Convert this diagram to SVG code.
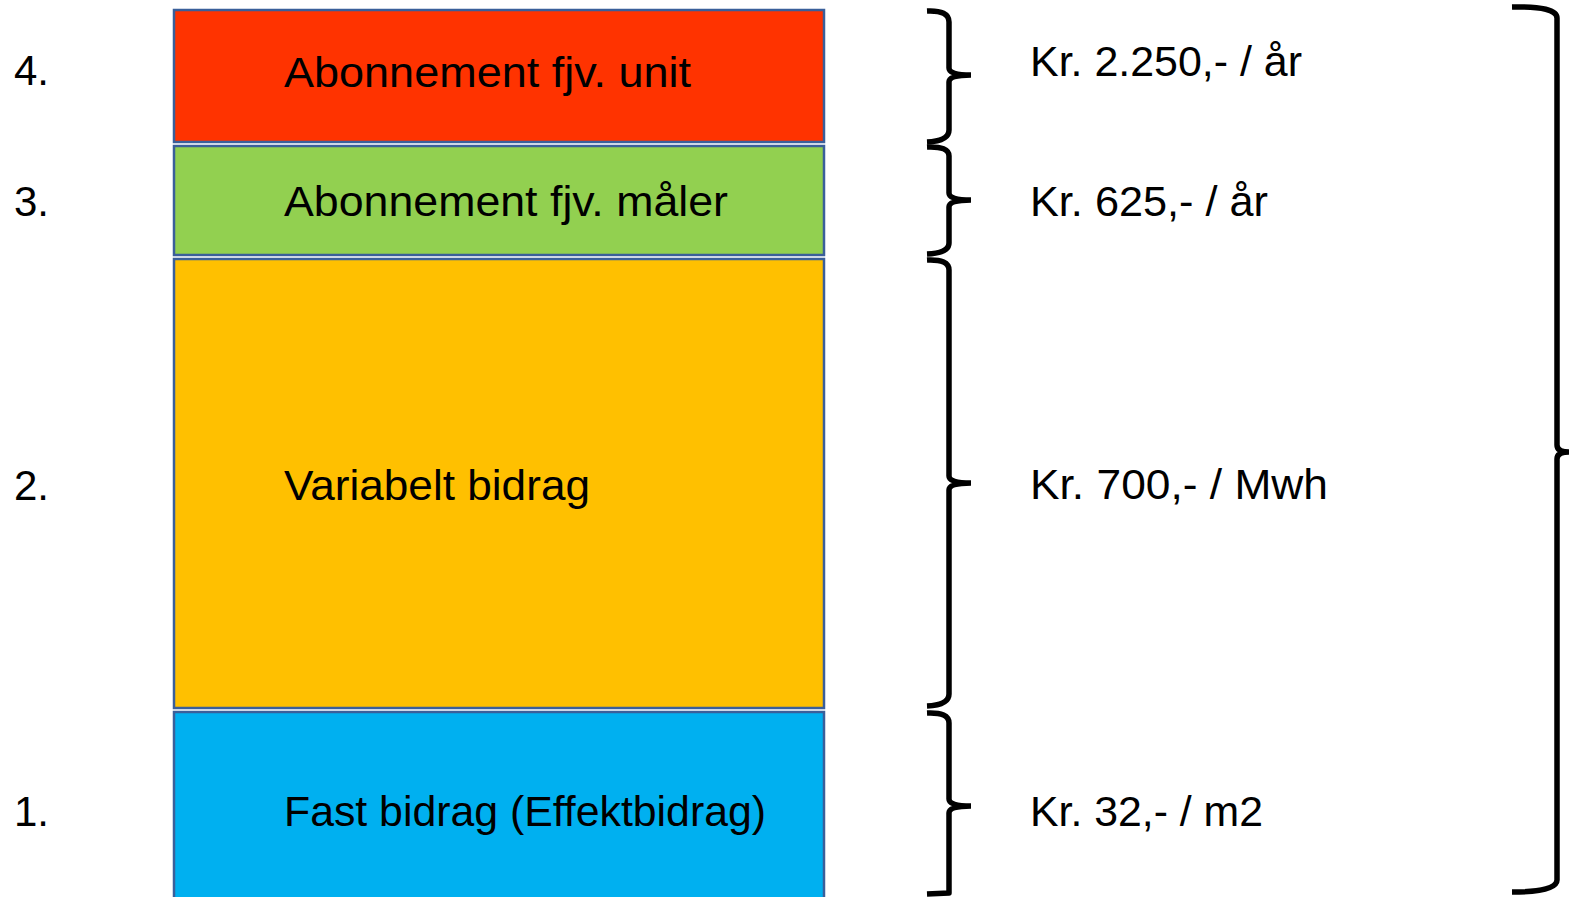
<svg xmlns="http://www.w3.org/2000/svg" width="1570" height="897" viewBox="0 0 1570 897">
<style>
.box{stroke:#3A5F9A;stroke-width:2.5}
.t{font-family:"Liberation Sans",Arial,sans-serif;font-size:42px;fill:#000}
.brace{fill:none;stroke:#000;stroke-width:5.5;stroke-linecap:butt;stroke-linejoin:round}
</style>
<rect width="1570" height="897" fill="#fff"/>
<g id="node4">
<rect class="box" x="174" y="10" width="650" height="132" fill="#FF3300"/>
<text class="t" x="284" y="87" textLength="407" lengthAdjust="spacingAndGlyphs">Abonnement fjv. unit</text>
<text class="t" x="14" y="85">4.</text>
</g>
<g id="node3">
<rect class="box" x="174" y="146" width="650" height="109" fill="#92D050"/>
<text class="t" x="284" y="216" textLength="444" lengthAdjust="spacingAndGlyphs">Abonnement fjv. måler</text>
<text class="t" x="14" y="216">3.</text>
</g>
<g id="node2">
<rect class="box" x="174" y="259" width="650" height="449" fill="#FFC000"/>
<text class="t" x="284" y="500" textLength="306" lengthAdjust="spacingAndGlyphs">Variabelt bidrag</text>
<text class="t" x="14" y="500">2.</text>
</g>
<g id="node1">
<rect class="box" x="174" y="712" width="650" height="190" fill="#00B0F0"/>
<text class="t" x="284" y="826" textLength="482" lengthAdjust="spacingAndGlyphs">Fast bidrag (Effektbidrag)</text>
<text class="t" x="14" y="826">1.</text>
</g>
<g id="connectors">
<path class="brace" d="M927,11 Q949,10 949,22 L949,68 Q949,75 971,75 M971,75 Q949,75 949,82 L949,130 Q949,141 927,142"/>
<path class="brace" d="M927,147 Q949,146 949,156 L949,193 Q949,200 971,200 M971,200 Q949,200 949,207 L949,243 Q949,253 927,254"/>
<path class="brace" d="M927,260 Q949,259 949,270 L949,476 Q949,483 971,483 M971,483 Q949,483 949,490 L949,694 Q949,705 927,706"/>
<path class="brace" d="M927,713 Q949,712 949,723 L949,799 Q949,806 971,806 M971,806 Q949,806 949,813 L949,893 Q949,893 927,894"/>
<path class="brace" d="M1512,7 Q1557,6 1557,18 L1557,445 Q1557,452 1569,452 M1569,452 Q1557,452 1557,459 L1557,880 Q1557,892 1512,892"/>
</g>
<g id="labels">
<text class="t" x="1030" y="76" textLength="272" lengthAdjust="spacingAndGlyphs">Kr. 2.250,- / år</text>
<text class="t" x="1030" y="216" textLength="238" lengthAdjust="spacingAndGlyphs">Kr. 625,- / år</text>
<text class="t" x="1030" y="499" textLength="298" lengthAdjust="spacingAndGlyphs">Kr. 700,- / Mwh</text>
<text class="t" x="1030" y="826" textLength="233" lengthAdjust="spacingAndGlyphs">Kr. 32,- / m2</text>
</g>
</svg>
